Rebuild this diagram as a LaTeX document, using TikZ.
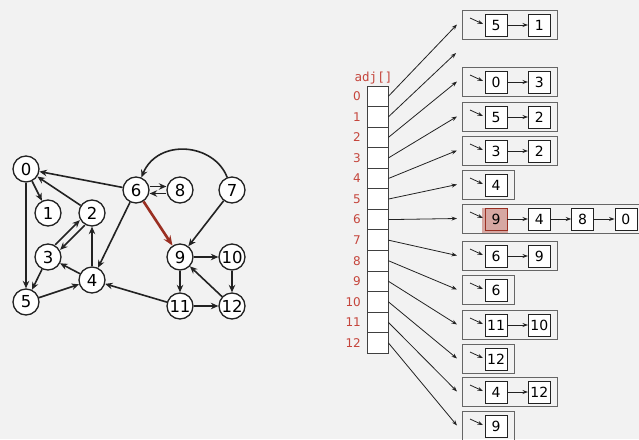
\documentclass[tikz,border=0pt]{standalone}
\usepackage{fontspec}
\setmainfont{DejaVu Sans}
\setmonofont{DejaVu Sans Mono}
\usetikzlibrary{arrows.meta,positioning,calc}

\definecolor{paper}{HTML}{F2F2F2}
\definecolor{ink}{HTML}{222222}
\definecolor{idxred}{HTML}{C5453C}
\definecolor{pathred}{HTML}{9A2F22}
\definecolor{hlpink}{HTML}{D6A7A2}

\tikzset{
  vertex/.style={circle, draw=ink, fill=white, line width=1.3pt, minimum size=26pt,
    inner sep=0pt, font=\fontsize{16.5}{16.5}\selectfont},
  edge/.style={draw=ink, line width=1.6pt, -{Stealth[length=7.5pt,width=6.5pt]}},
  cell/.style={draw=black!75, fill=white, line width=0.8pt, minimum width=21pt,
    minimum height=20.55pt, inner sep=0pt},
  idx/.style={text=idxred, anchor=east, inner sep=0pt, font=\fontsize{12}{12}\selectfont},
  bag/.style={draw=black!60, line width=0.9pt, minimum height=29pt, inner sep=0pt,
    anchor=north west},
  item/.style={draw=ink, fill=white, line width=0.7pt, minimum size=22pt, inner sep=0pt,
    font=\fontsize{14}{14}\selectfont},
  ptr/.style={draw=ink, line width=0.8pt, -{Stealth[length=5.5pt,width=4pt]}},
  hl 6-0/.style={fill=hlpink, draw=pathred},
}

\begin{document}
\begin{tikzpicture}[x=1pt,y=-1pt]
    \fill[paper] (0,0) rectangle (639,439);
    \useasboundingbox (0,0) rectangle (639,439);

    % Digraph
    \node[vertex] (v0) at (26,169) {0};
    \node[vertex] (v1) at (48,213) {1};
    \node[vertex] (v2) at (92,213) {2};
    \node[vertex] (v3) at (48,257) {3};
    \node[vertex] (v4) at (92,280) {4};
    \node[vertex] (v5) at (26,302) {5};
    \node[vertex] (v6) at (136,190) {6};
    \node[vertex] (v8) at (180,190) {8};
    \node[vertex] (v7) at (232,190) {7};
    \node[vertex] (v9) at (180,257) {9};
    \node[vertex] (v10) at (232,257) {10};
    \node[vertex] (v11) at (180,306) {11};
    \node[vertex] (v12) at (232,306) {12};

    \draw[edge] (v0) -- (v5);
    \draw[edge] (v0) -- (v1);
    \draw[edge] (v2) -- (v0);
    \draw[edge, transform canvas={shift={(2.5pt,-2.5pt)}}] (v2) -- (v3);
    \draw[edge, transform canvas={shift={(-2.5pt,2.5pt)}}] (v3) -- (v2);
    \draw[edge] (v3) -- (v5);
    \draw[edge] (v4) -- (v3);
    \draw[edge] (v4) -- (v2);
    \draw[edge] (v5) -- (v4);
    \draw[edge] (v6) -- (v4);
    \draw[edge] (v6) -- (v0);
    \draw[edge, transform canvas={yshift=3.5pt}] (v6) -- (v8);
    \draw[edge, transform canvas={yshift=-3.5pt}] (v8) -- (v6);
    \draw[edge] (v7) .. controls (214,143) and (158,138) .. (v6);
    \draw[edge] (v7) -- (v9);
    \draw[edge] (v9) -- (v10);
    \draw[edge] (v9) -- (v11);
    \draw[edge] (v10) -- (v12);
    \draw[edge] (v11) -- (v12);
    \draw[edge] (v11) -- (v4);
    \draw[edge] (v12) -- (v9);
    % edge being followed
    \draw[edge, draw=pathred, line width=2.6pt, -{Stealth[length=10pt,width=8pt]}] (v6) -- (v9);

    % Array of list heads
    \node[text=idxred, font=\ttfamily\fontsize{12.5}{12.5}\selectfont] (adj) at (373.5,78) {adj[]};
    \foreach \i in {0,...,12} {
        \node[cell] (c\i) at (377.5,{96.3+20.55*\i}) {};
        \node[idx] (l\i) at (361,{96.3+20.55*\i}) {\i};
    }

    % Lists
    \fill[hlpink] (482,207.5) rectangle (508,234);
    \coordinate (e1) at (456,53);
    \foreach \rw/\y/\n/\lst in {0/10/2/{5,1}, 2/67/2/{0,3}, 3/102/2/{5,2}, 4/136/2/{3,2},
        5/170/1/{4}, 6/204/4/{9,4,8,0}, 7/241/2/{6,9}, 8/275/1/{6}, 9/310/2/{11,10},
        10/344/1/{12}, 11/377/2/{4,12}, 12/411/1/{9}} {
        \node[bag, minimum width={51.5+43.3*(\n-1)}] (b\rw) at (462,\y) {};
        \coordinate (e\rw) at (457,{\y+14.5});
        \draw[ptr] ($(b\rw.north west)+(8,8)$) -- ($(b\rw.north west)+(21,14)$);
        \foreach \v [count=\k from 0, remember=\k as \lastk (initially -1)] in \lst {
            \node[item, hl \rw-\k/.try] (b\rw-\k) at ({496+43.3*\k},{\y+15}) {\v};
            \ifnum\lastk>-1
                \draw[ptr] (b\rw-\lastk) -- (b\rw-\k);
            \fi
        }
    }

    % Head pointers
    \foreach \i in {0,...,12}
        \draw[ptr] (c\i.east) -- (e\i);
\end{tikzpicture}
\end{document}
